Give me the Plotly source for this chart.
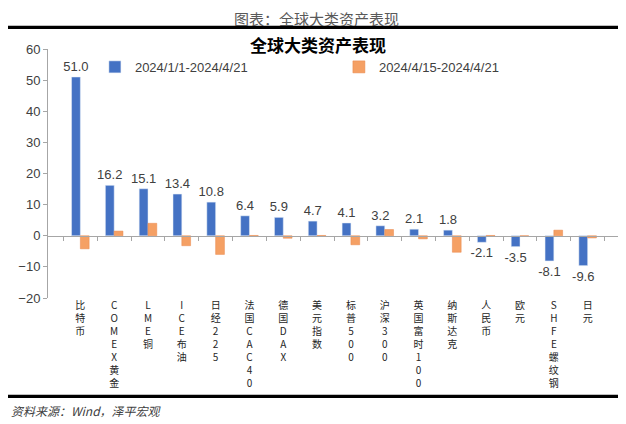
import plotly.graph_objs as go

categories = ['比特币', 'COMEX黄金', 'LME铜', 'ICE布油', '日经225', '法国CAC40', '德国DAX', '美元指数',
              '标普500', '沪深300', '英国富时100', '纳斯达克', '人民币', '欧元', 'SHFE螺纹钢', '日元']
ytd = [51.0, 16.2, 15.1, 13.4, 10.8, 6.4, 5.9, 4.7, 4.1, 3.2, 2.1, 1.8, -2.1, -3.5, -8.1, -9.6]
week = [-4.2, 1.5, 4.0, -3.2, -6.0, 0.1, -0.8, 0.1, -2.9, 2.0, -1.0, -5.3, 0.1, 0.0, 1.8, -0.7]
name_ytd = '2024/1/1-2024/4/21'
name_week = '2024/4/15-2024/4/21'

# vertical labels: one character per line like the excel original
tick_text = ['<br>'.join(list(c)) for c in categories]

blue = '#4472C4'
orange = '#F5A064'
grey = '#404040'
cjk = 'Noto Sans CJK SC'
latin = 'Liberation Sans'

fig = go.Figure()
fig.add_trace(go.Bar(x=categories, y=ytd, name=name_ytd, marker_color=blue,
                     text=[f'{v:.1f}' for v in ytd], textposition='outside', cliponaxis=False,
                     constraintext='none',
                     textfont=dict(size=13, color=grey, family=latin)))
fig.add_trace(go.Bar(x=categories, y=week, name=name_week, marker_color=orange,
                     marker_line=dict(color='#E8864A', width=0.5)))
# helper trace so the zero-line axis with boundary ticks is drawn
fig.add_trace(go.Scatter(x=categories, y=[0] * len(categories), xaxis='x2', mode='markers',
                         marker=dict(opacity=0), showlegend=False, hoverinfo='skip'))

# the page body adds an 8px offset, so the figure is drawn 8px smaller
fig.update_layout(
    width=618, height=416,
    margin=dict(l=40, r=6, t=41, b=126),
    paper_bgcolor='white', plot_bgcolor='white',
    barmode='group', bargap=0.48, bargroupgap=0,
    font=dict(family=cjk, color=grey),
    showlegend=True,
    legend=dict(orientation='h', yanchor='middle', xanchor='left', x=0.082, y=0.928,
                itemwidth=30, entrywidth=199, entrywidthmode='pixels',
                font=dict(size=13, family=latin, color=grey), bgcolor='rgba(0,0,0,0)'),
    xaxis=dict(tickmode='array', tickvals=categories, ticktext=tick_text, tickangle=0,
               showline=False, ticks='', showgrid=False,
               tickfont=dict(size=10, family=cjk, color='#262626')),
    xaxis2=dict(overlaying='x', matches='x', anchor='free', position=0.25, showline=True,
                linecolor='#A6A6A6', linewidth=1, ticks='outside', tickson='boundaries',
                ticklen=4, tickcolor='#A6A6A6', showticklabels=False, showgrid=False),
    yaxis=dict(range=[-20, 60], dtick=10, showgrid=False, zeroline=False,
               showline=True, linecolor='#A6A6A6', linewidth=1, ticks='outside', ticklen=4,
               tickcolor='#A6A6A6', tickfont=dict(size=13, family=latin, color=grey)),
)

# page frame: header, chart title, rules, source note
fig.add_annotation(text='图表：全球大类资产表现', xref='paper', yref='paper', x=0.469, y=1.122,
                   yanchor='middle', showarrow=False, font=dict(size=15, color='#595959', family=cjk))
fig.add_annotation(text='<b>全球大类资产表现</b>', xref='paper', yref='paper', x=0.472, y=1.018,
                   yanchor='middle', showarrow=False, font=dict(size=17, color='black', family=cjk))
fig.add_annotation(text='<i>资料来源：Wind，泽平宏观</i>', xref='paper', yref='paper', x=-0.068, y=-0.452,
                   xanchor='left', yanchor='middle', showarrow=False,
                   font=dict(size=12, color='#404040', family=cjk))
# horizontal rules across the whole page, as thin filled boxes
for yy in [1.087, -0.395]:
    fig.add_annotation(text=' ', xref='paper', yref='paper', x=0.47, y=yy, yanchor='middle',
                       width=640, height=3, bgcolor='black', borderpad=0, borderwidth=0,
                       showarrow=False, font=dict(size=2))
    fig.add_shape(type='line', xref='paper', yref='paper', x0=-0.08, x1=1.02, y0=yy, y1=yy,
                  line=dict(color='black', width=3))

fig.write_html("out.html")
